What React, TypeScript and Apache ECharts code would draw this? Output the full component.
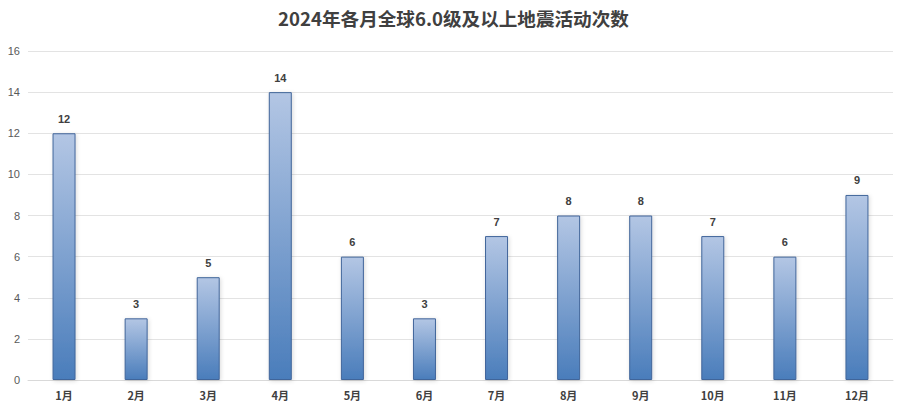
import React, { useEffect, useRef } from "react";
import * as echarts from "echarts";

const categories = ["1月", "2月", "3月", "4月", "5月", "6月", "7月", "8月", "9月", "10月", "11月", "12月"];
const counts = [12, 3, 5, 14, 6, 3, 7, 8, 8, 7, 6, 9];
const titleText = "2024年各月全球6.0级及以上地震活动次数";

export default function App() {
  const ref = useRef<HTMLDivElement>(null);
  useEffect(() => {
    const chart = echarts.init(ref.current!, null, { renderer: "svg" });
    chart.setOption({
      animation: false,
      backgroundColor: "#ffffff",
      title: {
        text: titleText,
        left: "center",
        top: 3,
        textStyle: {
          fontFamily: "Noto Sans CJK SC",
          fontSize: 18.6,
          fontWeight: "bold",
          color: "#404040",
        },
      },
      grid: { left: 28, right: 14, top: 51, bottom: 30, containLabel: false },
      xAxis: {
        type: "category",
        data: categories,
        axisLine: { lineStyle: { color: "#d9d9d9" } },
        axisTick: { show: false },
        axisLabel: {
          color: "#404040",
          fontSize: 11,
          fontWeight: "bold",
          fontFamily: "Noto Sans CJK SC",
          margin: 9,
        },
      },
      yAxis: {
        type: "value",
        min: 0,
        max: 16,
        interval: 2,
        axisLine: { show: false },
        axisTick: { show: false },
        splitLine: { lineStyle: { color: "#e3e3e3" } },
        axisLabel: { color: "#595959", fontSize: 11, fontFamily: "Liberation Sans", margin: 8 },
      },
      series: [
        {
          type: "bar",
          data: counts,
          barWidth: 23,
          itemStyle: {
            color: new echarts.graphic.LinearGradient(0, 0, 0, 1, [
              { offset: 0, color: "#b3c6e4" },
              { offset: 1, color: "#4a7dbb" },
            ]),
            borderColor: "#40659a",
            borderWidth: 1,
            shadowColor: "rgba(0,0,0,0.15)",
            shadowBlur: 4,
            shadowOffsetX: 1,
            shadowOffsetY: 1,
          },
          label: {
            show: true,
            position: "top",
            distance: 9,
            color: "#404040",
            fontSize: 11,
            fontWeight: "bold",
            fontFamily: "Liberation Sans",
          },
        },
      ],
    });
    return () => chart.dispose();
  }, []);
  return (
    <div
      ref={ref}
      style={{ position: "fixed", left: 0, top: 0, width: 907, height: 410, background: "#fff" }}
    />
  );
}
